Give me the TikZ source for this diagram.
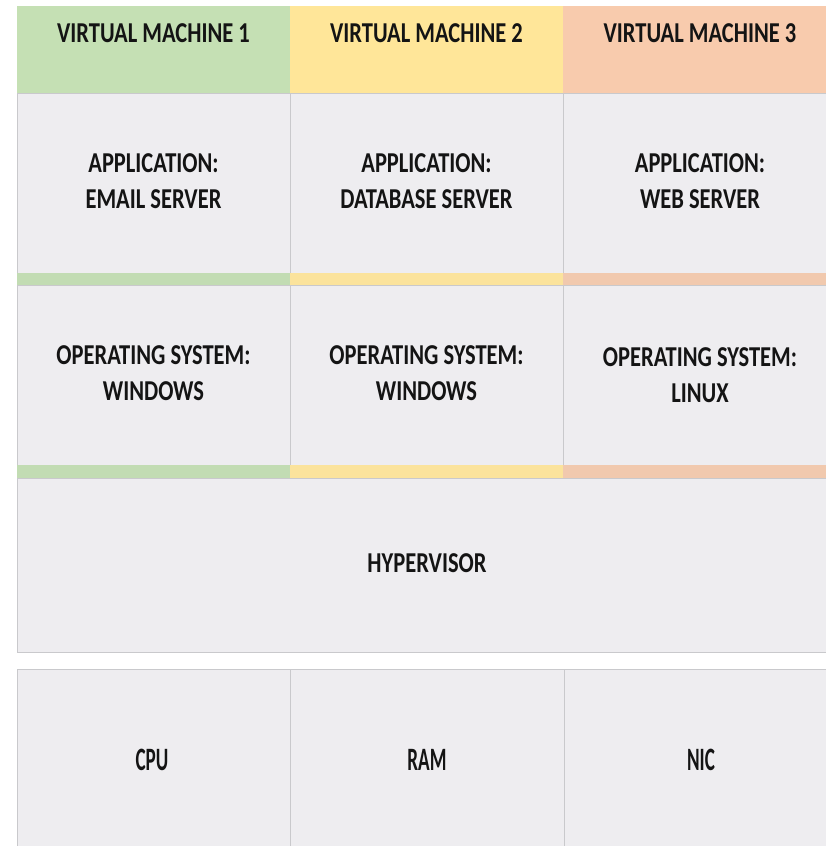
\documentclass[tikz,border=0pt]{standalone}
\usepackage{fontspec}
\setmainfont{Carlito}
\usepackage{graphicx}
\definecolor{vmgreen}{HTML}{C5E0B4}
\definecolor{vmyellow}{HTML}{FFE699}
\definecolor{vmorange}{HTML}{F8CBAD}
\definecolor{stgreen}{HTML}{C2DCB3}
\definecolor{styellow}{HTML}{FBE39C}
\definecolor{storange}{HTML}{F1C9AE}
\definecolor{cellgray}{HTML}{EEEDF0}
\definecolor{cellline}{HTML}{C9C9CC}
\definecolor{inktext}{HTML}{141414}
\newcommand{\lbl}[1]{\scalebox{1}[1.28]{\begin{tabular}{@{}c@{}}#1\end{tabular}}}
\newcommand{\hwlbl}[1]{\scalebox{0.85}[1.45]{#1}}
\tikzset{
  cell/.style={draw=cellline, line width=0.8pt, fill=cellgray, inner sep=0pt, outer sep=0pt, anchor=north west},
  head/.style={draw=none, inner sep=0pt, outer sep=0pt, anchor=north west},
  strip/.style={draw=none, inner sep=0pt, outer sep=0pt, anchor=north west},
  txt/.style={font=\fontsize{22.5}{28}\selectfont\bfseries, text=inktext, inner sep=0pt, align=center},
}
\begin{document}
\begin{tikzpicture}[x=1pt,y=-1pt]
\clip (0,0) rectangle (826,846);
\fill[white] (0,0) rectangle (826,846);
% header row
\node[head, fill=vmgreen, minimum width=273pt, minimum height=87pt] (h1) at (17,6) {};
\node[head, fill=vmyellow, minimum width=273pt, minimum height=87pt] (h2) at (290,6) {};
\node[head, fill=vmorange, minimum width=280pt, minimum height=87pt] (h3) at (563,6) {};
\node[txt] (t1) at (153.5,35) {\lbl{VIRTUAL MACHINE 1}};
\node[txt] (t2) at (426.5,35) {\lbl{VIRTUAL MACHINE 2}};
\node[txt] (t3) at (700,35) {\lbl{VIRTUAL MACHINE 3}};
% application row
\node[cell, minimum width=273pt, minimum height=180pt] (a1) at (17,93) {};
\node[cell, minimum width=273pt, minimum height=180pt] (a2) at (290,93) {};
\node[cell, minimum width=280pt, minimum height=180pt] (a3) at (563,93) {};
\node[txt] (at1) at (a1.center) {\lbl{APPLICATION:\\EMAIL SERVER}};
\node[txt] (at2) at (a2.center) {\lbl{APPLICATION:\\DATABASE SERVER}};
\node[txt] (at3) at ([xshift=-3pt]a3.center) {\lbl{APPLICATION:\\WEB SERVER}};
% strips
\node[strip, fill=stgreen, minimum width=273pt, minimum height=12pt] (s11) at (17,273) {};
\node[strip, fill=styellow, minimum width=273pt, minimum height=12pt] (s12) at (290,273) {};
\node[strip, fill=storange, minimum width=280pt, minimum height=12pt] (s13) at (563,273) {};
% OS row
\node[cell, minimum width=273pt, minimum height=180pt] (o1) at (17,285) {};
\node[cell, minimum width=273pt, minimum height=180pt] (o2) at (290,285) {};
\node[cell, minimum width=280pt, minimum height=180pt] (o3) at (563,285) {};
\node[txt] (ot1) at (o1.center) {\lbl{OPERATING SYSTEM:\\WINDOWS}};
\node[txt] (ot2) at (o2.center) {\lbl{OPERATING SYSTEM:\\WINDOWS}};
\node[txt] (ot3) at ([xshift=-3pt,yshift=-2pt]o3.center) {\lbl{OPERATING SYSTEM:\\LINUX}};
% strips
\node[strip, fill=stgreen, minimum width=273pt, minimum height=13pt] (s21) at (17,465) {};
\node[strip, fill=styellow, minimum width=273pt, minimum height=13pt] (s22) at (290,465) {};
\node[strip, fill=storange, minimum width=280pt, minimum height=13pt] (s23) at (563,465) {};
% hypervisor
\node[cell, minimum width=826pt, minimum height=174pt] (hv) at (17,478) {};
\node[txt] (hvt) at (427,565) {\lbl{HYPERVISOR}};
% hardware row
\node[cell, minimum width=273pt, minimum height=190pt] (w1) at (17,669) {};
\node[cell, minimum width=274pt, minimum height=190pt] (w2) at (290,669) {};
\node[cell, minimum width=280pt, minimum height=190pt] (w3) at (564,669) {};
\node[txt] (wt1) at (152,760) {\hwlbl{CPU}};
\node[txt] (wt2) at (427,760) {\hwlbl{RAM}};
\node[txt] (wt3) at (701,760) {\hwlbl{NIC}};
\end{tikzpicture}
\end{document}
